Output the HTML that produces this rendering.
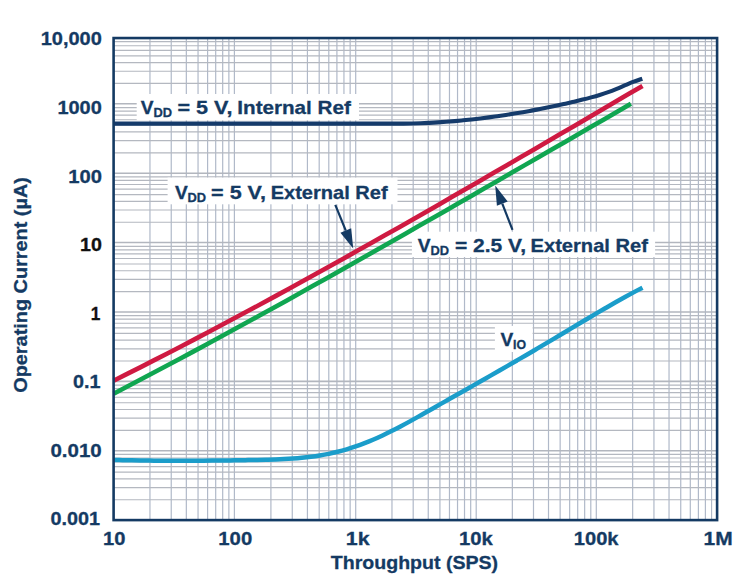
<!DOCTYPE html>
<html><head><meta charset="utf-8"><title>Operating Current vs Throughput</title>
<style>html,body{margin:0;padding:0;background:#fff}svg{display:block}text{font-family:"Liberation Sans",sans-serif;font-weight:bold}</style>
</head><body>
<svg width="753" height="585" viewBox="0 0 753 585">
<rect width="753" height="585" fill="#ffffff"/>
<defs><clipPath id="c"><rect x="113.6" y="38.05" width="603.5" height="482.05"/></clipPath></defs>
<path d="M149.96 38.05V520.1M171.24 38.05V520.1M186.33 38.05V520.1M198.04 38.05V520.1M207.60 38.05V520.1M215.69 38.05V520.1M222.69 38.05V520.1M228.87 38.05V520.1M234.40 38.05V520.1M270.91 38.05V520.1M292.27 38.05V520.1M307.43 38.05V520.1M319.19 38.05V520.1M328.79 38.05V520.1M336.91 38.05V520.1M343.94 38.05V520.1M350.15 38.05V520.1M355.70 38.05V520.1M391.97 38.05V520.1M413.19 38.05V520.1M428.25 38.05V520.1M439.93 38.05V520.1M449.47 38.05V520.1M457.53 38.05V520.1M464.52 38.05V520.1M470.69 38.05V520.1M476.20 38.05V520.1M512.35 38.05V520.1M533.50 38.05V520.1M548.51 38.05V520.1M560.15 38.05V520.1M569.66 38.05V520.1M577.70 38.05V520.1M584.66 38.05V520.1M590.80 38.05V520.1M596.30 38.05V520.1M632.66 38.05V520.1M653.94 38.05V520.1M669.03 38.05V520.1M680.74 38.05V520.1M690.30 38.05V520.1M698.39 38.05V520.1M705.39 38.05V520.1M711.57 38.05V520.1" stroke="#b0b9c9" stroke-width="1.2" fill="none" clip-path="url(#c)"/>
<path d="M113.6 499.75H717.1M113.6 487.54H717.1M113.6 478.87H717.1M113.6 472.15H717.1M113.6 466.65H717.1M113.6 462.01H717.1M113.6 457.98H717.1M113.6 454.43H717.1M113.6 430.37H717.1M113.6 418.16H717.1M113.6 409.49H717.1M113.6 402.77H717.1M113.6 397.27H717.1M113.6 392.63H717.1M113.6 388.60H717.1M113.6 385.05H717.1M113.6 360.99H717.1M113.6 348.78H717.1M113.6 340.11H717.1M113.6 333.39H717.1M113.6 327.89H717.1M113.6 323.25H717.1M113.6 319.22H717.1M113.6 315.67H717.1M113.6 291.61H717.1M113.6 279.40H717.1M113.6 270.73H717.1M113.6 264.01H717.1M113.6 258.51H717.1M113.6 253.87H717.1M113.6 249.84H717.1M113.6 246.29H717.1M113.6 222.23H717.1M113.6 210.02H717.1M113.6 201.35H717.1M113.6 194.63H717.1M113.6 189.13H717.1M113.6 184.49H717.1M113.6 180.46H717.1M113.6 176.91H717.1M113.6 152.85H717.1M113.6 140.64H717.1M113.6 131.97H717.1M113.6 125.25H717.1M113.6 119.75H717.1M113.6 115.11H717.1M113.6 111.08H717.1M113.6 107.53H717.1M113.6 83.47H717.1M113.6 71.26H717.1M113.6 62.59H717.1M113.6 55.87H717.1M113.6 50.37H717.1M113.6 45.73H717.1M113.6 41.70H717.1" stroke="#b4b8c0" stroke-width="1.2" fill="none" clip-path="url(#c)"/>
<path d="M113.6 450.71H717.1M113.6 381.33H717.1M113.6 311.95H717.1M113.6 242.57H717.1M113.6 173.19H717.1M113.6 103.81H717.1" stroke="#b2b6be" stroke-width="1.6" fill="none" clip-path="url(#c)"/>
<rect x="136.7" y="94" width="222.3" height="26.3" fill="#ffffff"/>
<rect x="167.6" y="177.6" width="229.9" height="26.7" fill="#ffffff"/>
<rect x="411.9" y="231.7" width="243.2" height="25.3" fill="#ffffff"/>
<rect x="494.9" y="325.9" width="37.7" height="26.1" fill="#ffffff"/>
<path d="M113.60 459.93C115.09 459.96 119.58 460.08 122.56 460.15C125.55 460.21 128.54 460.27 131.53 460.33C134.52 460.39 137.51 460.44 140.49 460.48C143.48 460.52 146.47 460.56 149.46 460.60C152.45 460.63 155.43 460.66 158.42 460.68C161.41 460.71 164.40 460.73 167.39 460.74C170.37 460.75 173.36 460.76 176.35 460.77C179.34 460.77 182.33 460.77 185.32 460.77C188.30 460.76 191.29 460.76 194.28 460.74C197.27 460.73 200.26 460.71 203.24 460.69C206.23 460.67 209.22 460.65 212.21 460.62C215.20 460.59 218.18 460.56 221.17 460.52C224.16 460.48 227.15 460.44 230.14 460.40C233.13 460.36 236.11 460.31 239.10 460.26C242.09 460.22 245.08 460.16 248.07 460.11C251.05 460.05 254.04 460.00 257.03 459.93C260.02 459.87 263.01 459.81 265.99 459.74C268.98 459.66 271.97 459.59 274.96 459.48C277.95 459.38 280.94 459.26 283.92 459.11C286.91 458.97 289.90 458.80 292.89 458.59C295.88 458.38 298.86 458.14 301.85 457.85C304.84 457.56 307.83 457.23 310.82 456.85C313.81 456.46 316.79 456.03 319.78 455.54C322.77 455.04 325.76 454.49 328.75 453.86C331.73 453.24 334.72 452.55 337.71 451.79C340.70 451.03 343.69 450.20 346.67 449.30C349.66 448.41 352.65 447.44 355.64 446.42C358.63 445.39 361.62 444.30 364.60 443.15C367.59 441.99 370.58 440.77 373.57 439.49C376.56 438.21 379.54 436.87 382.53 435.47C385.52 434.07 388.51 432.61 391.50 431.11C394.48 429.60 397.47 428.05 400.46 426.46C403.45 424.88 406.44 423.25 409.43 421.61C412.41 419.97 415.40 418.29 418.39 416.61C421.38 414.93 424.37 413.23 427.35 411.54C430.34 409.84 433.33 408.14 436.32 406.44C439.31 404.75 442.29 403.05 445.28 401.36C448.27 399.66 451.26 397.97 454.25 396.27C457.24 394.58 460.22 392.88 463.21 391.19C466.20 389.49 469.19 387.79 472.18 386.09C475.16 384.39 478.15 382.69 481.14 380.99C484.13 379.28 487.12 377.58 490.11 375.87C493.09 374.16 496.08 372.45 499.07 370.74C502.06 369.02 505.05 367.30 508.03 365.58C511.02 363.86 514.01 362.13 517.00 360.40C519.99 358.67 522.97 356.93 525.96 355.19C528.95 353.45 531.94 351.71 534.93 349.95C537.92 348.20 540.90 346.44 543.89 344.68C546.88 342.91 549.87 341.14 552.86 339.36C555.84 337.58 558.83 335.80 561.82 334.01C564.81 332.23 567.80 330.44 570.78 328.65C573.77 326.86 576.76 325.07 579.75 323.29C582.74 321.51 585.73 319.73 588.71 317.96C591.70 316.19 594.69 314.42 597.68 312.67C600.67 310.92 603.65 309.18 606.64 307.45C609.63 305.73 612.62 304.01 615.61 302.32C618.59 300.63 621.58 298.95 624.57 297.30C627.56 295.64 630.55 294.01 633.54 292.40C636.52 290.79 641.01 288.44 642.50 287.65" stroke="#1b9dca" stroke-width="4.5" fill="none"/>
<path d="M113.60 393.68 L126.86 386.78 L140.13 379.83 L153.39 372.84 L166.66 365.81 L179.92 358.74 L193.18 351.63 L206.45 344.48 L219.71 337.30 L232.98 330.08 L246.24 322.83 L259.51 315.55 L272.77 308.23 L286.03 300.89 L299.30 293.51 L312.56 286.11 L325.83 278.69 L339.09 271.24 L352.35 263.77 L365.62 256.27 L378.88 248.76 L392.15 241.22 L405.41 233.67 L418.67 226.10 L431.94 218.52 L445.20 210.93 L458.47 203.32 L471.73 195.70 L484.99 188.07 L498.26 180.43 L511.52 172.78 L524.79 165.13 L538.05 157.47 L551.32 149.81 L564.58 142.15 L577.84 134.49 L591.11 126.83 L604.37 119.17 L617.64 111.51 L630.90 103.86" stroke="#10a651" stroke-width="4.6" fill="none"/>
<path d="M113.60 380.71 L127.16 373.93 L140.72 367.08 L154.28 360.17 L167.85 353.21 L181.41 346.19 L194.97 339.12 L208.53 331.99 L222.09 324.81 L235.65 317.59 L249.22 310.32 L262.78 303.00 L276.34 295.63 L289.90 288.23 L303.46 280.78 L317.02 273.30 L330.58 265.77 L344.15 258.21 L357.71 250.61 L371.27 242.99 L384.83 235.32 L398.39 227.63 L411.95 219.92 L425.52 212.17 L439.08 204.40 L452.64 196.60 L466.20 188.79 L479.76 180.95 L493.32 173.10 L506.88 165.22 L520.45 157.33 L534.01 149.43 L547.57 141.52 L561.13 133.59 L574.69 125.65 L588.25 117.71 L601.82 109.76 L615.38 101.81 L628.94 93.85 L642.50 85.90" stroke="#cf1a42" stroke-width="4.6" fill="none"/>
<path d="M113.60 123.60C158.83 123.60 338.10 123.59 385.00 123.60C431.90 123.61 391.91 123.67 395.00 123.68C398.09 123.68 400.69 123.67 403.53 123.63C406.37 123.60 409.21 123.54 412.06 123.47C414.90 123.40 417.74 123.31 420.58 123.21C423.43 123.10 426.27 122.98 429.11 122.84C431.95 122.69 434.80 122.53 437.64 122.36C440.48 122.18 443.32 121.99 446.17 121.78C449.01 121.56 451.85 121.34 454.69 121.09C457.54 120.85 460.38 120.59 463.22 120.31C466.06 120.03 468.91 119.74 471.75 119.42C474.59 119.11 477.43 118.79 480.28 118.44C483.12 118.10 485.96 117.74 488.80 117.37C491.65 117.00 494.49 116.61 497.33 116.20C500.17 115.80 503.02 115.37 505.86 114.94C508.70 114.50 511.54 114.05 514.39 113.59C517.23 113.12 520.07 112.64 522.91 112.15C525.76 111.65 528.60 111.14 531.44 110.62C534.28 110.09 537.13 109.56 539.97 109.01C542.81 108.45 545.65 107.89 548.50 107.31C551.34 106.73 554.18 106.14 557.02 105.53C559.87 104.92 562.71 104.30 565.55 103.67C568.39 103.03 571.24 102.38 574.08 101.70C576.92 101.03 579.76 100.33 582.61 99.61C585.45 98.89 588.29 98.14 591.13 97.36C593.98 96.58 596.82 95.78 599.66 94.92C602.50 94.05 605.35 93.16 608.19 92.15C611.03 91.13 613.87 89.99 616.72 88.83C619.56 87.67 622.40 86.37 625.24 85.18C628.09 83.98 630.93 82.73 633.77 81.65C636.61 80.57 640.88 79.20 642.30 78.71" stroke="#153b6b" stroke-width="4.1" fill="none"/>
<rect x="113.6" y="38.05" width="603.50" height="482.05" fill="none" stroke="#143a63" stroke-width="2.6"/>
<path d="M335.30 204.90L345.81 230.56" stroke="#143a63" stroke-width="2.2" fill="none"/><path d="M353.20 248.60L340.44 232.75L351.18 228.36Z" fill="#143a63"/>
<path d="M512.50 229.80L502.29 203.66" stroke="#143a63" stroke-width="2.2" fill="none"/><path d="M495.20 185.50L507.70 201.55L496.89 205.77Z" fill="#143a63"/>
<g font-family="Liberation Sans, sans-serif" font-weight="bold">
<text x="40.7" y="45.3" text-anchor="start" font-size="18.4" fill="#143a63" stroke="#143a63" stroke-width="0.3" textLength="61.1" lengthAdjust="spacingAndGlyphs">10,000</text>
<text x="57.4" y="114.0" text-anchor="start" font-size="18.4" fill="#143a63" stroke="#143a63" stroke-width="0.3" textLength="44.4" lengthAdjust="spacingAndGlyphs">1000</text>
<text x="68.2" y="182.9" text-anchor="start" font-size="18.4" fill="#143a63" stroke="#143a63" stroke-width="0.3" textLength="33.7" lengthAdjust="spacingAndGlyphs">100</text>
<text x="80.0" y="251.1" text-anchor="start" font-size="18.4" fill="#111111" stroke="#111111" stroke-width="0.3" textLength="21.9" lengthAdjust="spacingAndGlyphs">10</text>
<text x="90.8" y="319.7" text-anchor="start" font-size="18.4" fill="#111111" stroke="#111111" stroke-width="0.3" textLength="9.6" lengthAdjust="spacingAndGlyphs">1</text>
<text x="72.9" y="388.0" text-anchor="start" font-size="18.4" fill="#143a63" stroke="#143a63" stroke-width="0.3" textLength="27.5" lengthAdjust="spacingAndGlyphs">0.1</text>
<text x="50.4" y="456.5" text-anchor="start" font-size="18.4" fill="#143a63" stroke="#143a63" stroke-width="0.3" textLength="51.3" lengthAdjust="spacingAndGlyphs">0.010</text>
<text x="50.4" y="524.8" text-anchor="start" font-size="18.4" fill="#143a63" stroke="#143a63" stroke-width="0.3" textLength="49.5" lengthAdjust="spacingAndGlyphs">0.001</text>
<text x="103.1" y="544.7" text-anchor="start" font-size="18.4" fill="#143a63" stroke="#143a63" stroke-width="0.3" textLength="22.4" lengthAdjust="spacingAndGlyphs">10</text>
<text x="218.3" y="544.7" text-anchor="start" font-size="18.4" fill="#143a63" stroke="#143a63" stroke-width="0.3" textLength="33.9" lengthAdjust="spacingAndGlyphs">100</text>
<text x="345.8" y="544.7" text-anchor="start" font-size="18.4" fill="#143a63" stroke="#143a63" stroke-width="0.3" textLength="23.8" lengthAdjust="spacingAndGlyphs">1k</text>
<text x="458.9" y="544.7" text-anchor="start" font-size="18.4" fill="#143a63" stroke="#143a63" stroke-width="0.3" textLength="33.8" lengthAdjust="spacingAndGlyphs">10k</text>
<text x="573.8" y="544.7" text-anchor="start" font-size="18.4" fill="#143a63" stroke="#143a63" stroke-width="0.3" textLength="44.7" lengthAdjust="spacingAndGlyphs">100k</text>
<text x="703.6" y="544.7" text-anchor="start" font-size="18.4" fill="#143a63" stroke="#143a63" stroke-width="0.3" textLength="29.1" lengthAdjust="spacingAndGlyphs">1M</text>
<text x="140.8" y="113.6" text-anchor="start" font-size="19.0" fill="#143a63" stroke="#143a63" stroke-width="0.3" textLength="12.8" lengthAdjust="spacingAndGlyphs">V</text><text x="153.40000000000003" y="117.19999999999999" text-anchor="start" font-size="13.2" fill="#143a63" stroke="#143a63" stroke-width="0.3" textLength="18.6" lengthAdjust="spacingAndGlyphs">DD</text><text x="177.5" y="113.6" text-anchor="start" font-size="19.0" fill="#143a63" stroke="#143a63" stroke-width="0.3" textLength="55.0" lengthAdjust="spacingAndGlyphs">= 5 V,</text><text x="237.3" y="113.6" text-anchor="start" font-size="19.0" fill="#143a63" stroke="#143a63" stroke-width="0.3" textLength="113.5" lengthAdjust="spacingAndGlyphs">Internal Ref</text>
<text x="174.9" y="198.6" text-anchor="start" font-size="19.0" fill="#143a63" stroke="#143a63" stroke-width="0.3" textLength="12.8" lengthAdjust="spacingAndGlyphs">V</text><text x="187.50000000000003" y="202.2" text-anchor="start" font-size="13.2" fill="#143a63" stroke="#143a63" stroke-width="0.3" textLength="18.6" lengthAdjust="spacingAndGlyphs">DD</text><text x="211.1" y="198.6" text-anchor="start" font-size="19.0" fill="#143a63" stroke="#143a63" stroke-width="0.3" textLength="54.9" lengthAdjust="spacingAndGlyphs">= 5 V,</text><text x="270.7" y="198.6" text-anchor="start" font-size="19.0" fill="#143a63" stroke="#143a63" stroke-width="0.3" textLength="116.9" lengthAdjust="spacingAndGlyphs">External Ref</text>
<text x="417.8" y="251.7" text-anchor="start" font-size="19.0" fill="#143a63" stroke="#143a63" stroke-width="0.3" textLength="12.8" lengthAdjust="spacingAndGlyphs">V</text><text x="430.40000000000003" y="255.29999999999998" text-anchor="start" font-size="13.2" fill="#143a63" stroke="#143a63" stroke-width="0.3" textLength="18.6" lengthAdjust="spacingAndGlyphs">DD</text><text x="454.9" y="251.7" text-anchor="start" font-size="19.0" fill="#143a63" stroke="#143a63" stroke-width="0.3" textLength="71.1" lengthAdjust="spacingAndGlyphs">= 2.5 V,</text><text x="530.5" y="251.7" text-anchor="start" font-size="19.0" fill="#143a63" stroke="#143a63" stroke-width="0.3" textLength="117.5" lengthAdjust="spacingAndGlyphs">External Ref</text>
<text x="500.4" y="345.6" text-anchor="start" font-size="19.0" fill="#143a63" stroke="#143a63" stroke-width="0.3" textLength="12.8" lengthAdjust="spacingAndGlyphs">V</text><text x="512.9999999999999" y="349.20000000000005" text-anchor="start" font-size="13.2" fill="#143a63" stroke="#143a63" stroke-width="0.3" textLength="13.0" lengthAdjust="spacingAndGlyphs">IO</text>
<text x="330.8" y="568.7" text-anchor="start" font-size="19.0" fill="#143a63" stroke="#143a63" stroke-width="0.3" textLength="167.3" lengthAdjust="spacingAndGlyphs">Throughput (SPS)</text>
<g transform="translate(27.2 392.8) rotate(-90)"><text x="0" y="0" text-anchor="start" font-size="19.0" fill="#143a63" stroke="#143a63" stroke-width="0.3" textLength="215.7" lengthAdjust="spacingAndGlyphs">Operating Current (µA)</text></g>
</g>
</svg>
</body></html>
